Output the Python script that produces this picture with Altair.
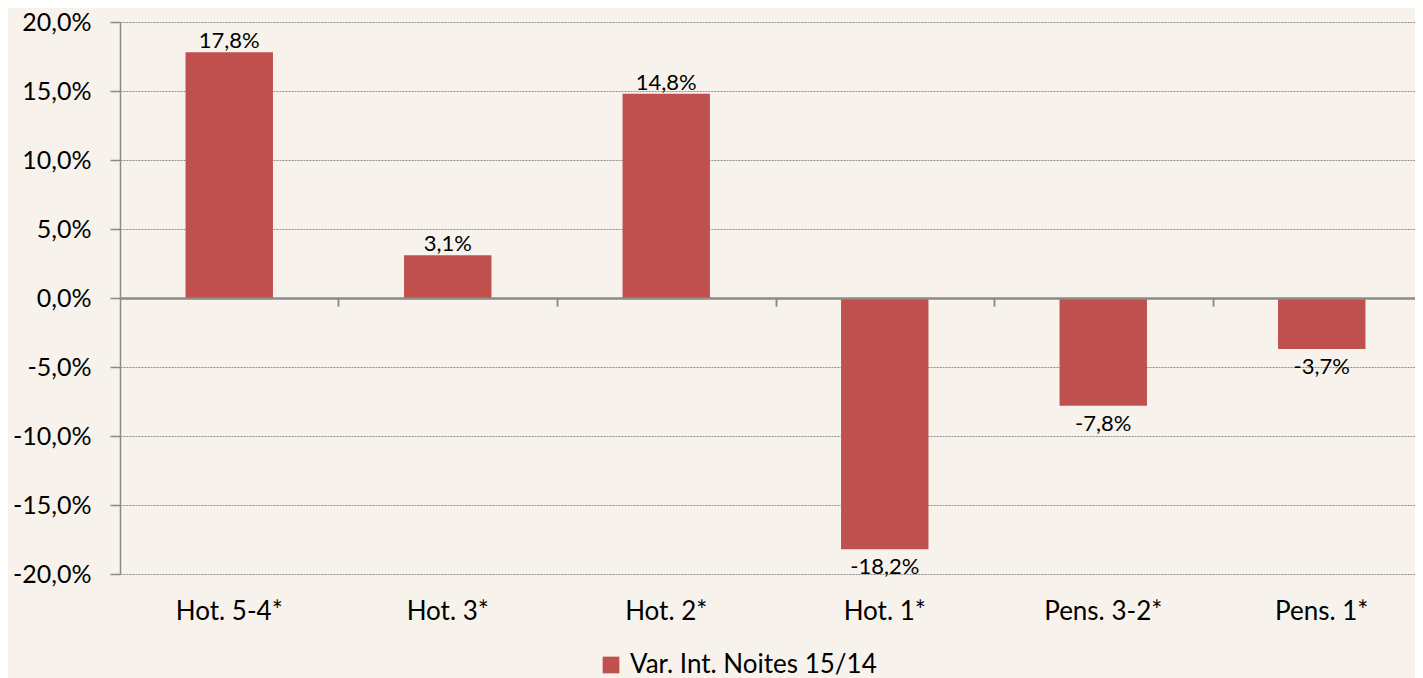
import altair as alt
import pandas as pd

categories = ["Hot. 5-4*", "Hot. 3*", "Hot. 2*", "Hot. 1*", "Pens. 3-2*", "Pens. 1*"]
values = [0.178, 0.031, 0.148, -0.182, -0.078, -0.037]
series_name = "Var. Int. Noites 15/14"
y_ticks = [-0.20, -0.15, -0.10, -0.05, 0.0, 0.05, 0.10, 0.15, 0.20]

df = pd.DataFrame({"cat": categories, "v": values, "series": [series_name] * len(categories)})

W, H = 1295, 552
RANGE_W = 1311
STEP = RANGE_W / len(categories)
FONT = "Lato"
BAR = "#C0504D"
BG = "#F7F3EC"
AXIS_GRAY = "#8A8A8A"

xscale = alt.Scale(domain=categories, range=[0, RANGE_W], paddingInner=0.6, paddingOuter=0.3)
yscale = alt.Scale(domain=[-0.2, 0.2], nice=False, zero=False)

Y = alt.Y(
    "v:Q", scale=yscale, title=None,
    axis=alt.Axis(
        values=y_ticks, format=".1%", labelFont=FONT, labelFontSize=25, labelColor="black",
        labelPadding=19, tickSize=10, tickColor=AXIS_GRAY, tickWidth=1.5,
        domainColor=AXIS_GRAY, domainWidth=1.5,
        grid=True, gridColor="#8E8E8E", gridDash=[2, 1], gridWidth=1,
    ),
)

X_labels = alt.X(
    "cat:N", scale=xscale, sort=categories, title=None,
    axis=alt.Axis(
        orient="bottom", labelAngle=0, domain=False, ticks=False, tickSize=0,
        labelFont=FONT, labelFontSize=26, labelColor="black", labelPadding=24, grid=False,
    ),
)

X_zero = alt.X(
    "cat:N", scale=xscale, sort=categories, title=None,
    axis=alt.Axis(
        orient="bottom", offset=-H / 2, labels=False, domain=True, domainColor=AXIS_GRAY,
        domainWidth=2, ticks=True, bandPosition=0.5, tickOffset=STEP / 2, tickSize=8,
        tickColor=AXIS_GRAY, tickWidth=1.5, grid=False, zindex=1,
    ),
)

base = alt.Chart(df)

bars = base.mark_bar(color=BAR).encode(
    x=X_labels,
    y=Y,
    color=alt.Color(
        "series:N", scale=alt.Scale(domain=[series_name], range=[BAR]),
        legend=alt.Legend(
            title=None, orient="none", legendX=478, legendY=630, symbolType="square",
            symbolSize=280, symbolStrokeWidth=0, labelFont=FONT, labelFontSize=26,
            labelColor="black", labelOffset=6, padding=0, labelLimit=0,
        ),
    ),
)

pos_text = base.transform_filter("datum.v >= 0").transform_calculate(
    lbl="format(datum.v, '.1%')"
).mark_text(font=FONT, fontSize=22, dy=-4, baseline="alphabetic", color="black").encode(
    x=X_zero, y=Y, text="lbl:N"
)

neg_text = base.transform_filter("datum.v < 0").transform_calculate(
    lbl="format(datum.v, '.1%')"
).mark_text(font=FONT, fontSize=22, dy=25, baseline="alphabetic", color="black").encode(
    x=X_zero, y=Y, text="lbl:N"
)

chart = alt.layer(bars, pos_text, neg_text).resolve_axis(x="independent").properties(
    width=W, height=H,
    autosize=alt.AutoSizeParams(type="none"),
    padding={"left": 112, "top": 14, "right": 0, "bottom": 104},
    background=BG,
).configure(
    locale={"number": {"decimal": ",", "thousands": ".", "grouping": [3],
                       "currency": ["", "€"], "minus": "-"}}
).configure_view(stroke=None)

chart.save("out.html", embed_options={"renderer": "svg", "actions": False})
